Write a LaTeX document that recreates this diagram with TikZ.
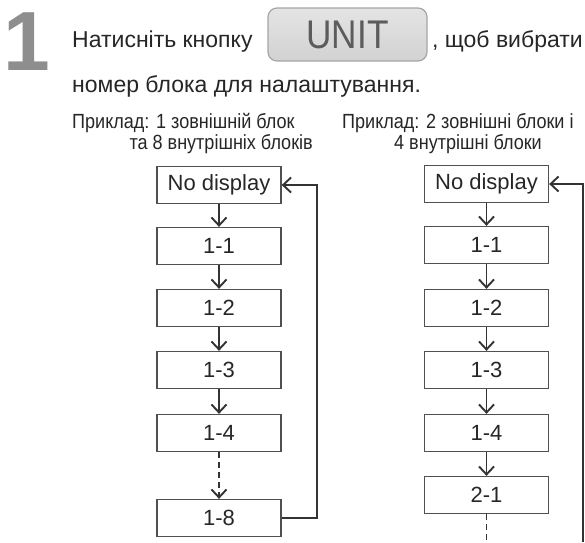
\documentclass[tikz,border=0pt]{standalone}
\usepackage{fontspec}
\setmainfont{Liberation Sans}
\newfontfamily\narrowfont{Liberation Sans}[FakeStretch=0.88]
\usetikzlibrary{arrows.meta}
\definecolor{fl_box}{HTML}{505050}
\definecolor{fl_arrow}{HTML}{333333}
\definecolor{fl_one}{HTML}{8E8E8E}
\definecolor{fl_btntop}{HTML}{E4E4E4}
\definecolor{fl_btnbot}{HTML}{D2D2D2}
\definecolor{fl_btnedge}{HTML}{A5A5A5}
\definecolor{fl_btntext}{HTML}{5C5C5C}
\definecolor{fl_text}{HTML}{262626}

\tikzset{
    unitbox/.style={draw=fl_box, line width=1.3pt, minimum width=124pt, minimum height=37pt,
        inner sep=0pt, font=\fontsize{22}{26}\selectfont, text=fl_text},
    flow/.style={draw=fl_arrow, line width=1.9pt,
        -{Straight Barb[length=8pt, width=15pt, line width=1.9pt]}},
    caption/.style={inner sep=0pt, font=\narrowfont\fontsize{20.5}{24}\selectfont, text=fl_text},
    body/.style={inner sep=0pt, font=\fontsize{23}{27}\selectfont, text=fl_text},
}

\begin{document}
\begin{tikzpicture}[x=1pt, y=-1pt]
    \useasboundingbox (0,0) rectangle (585,542);

    % step number and instruction
    \node[anchor=base west, inner sep=0pt, text=fl_one, font=\bfseries\fontsize{84}{84}\selectfont] (step1) at (3,70) {1};
    \node[body, anchor=base west] (press) at (72,47) {Натисніть кнопку};
    \node[draw=fl_btnedge, line width=1.2pt, rounded corners=9pt, top color=fl_btntop, bottom color=fl_btnbot,
        minimum width=159pt, minimum height=53pt, inner sep=0pt, text=fl_btntext,
        font=\narrowfont\fontsize{40}{40}\selectfont] (unit) at (347.5,34.5) {UNIT};
    \node[body, anchor=base west] (choose) at (432,47) {, щоб вибрати};
    \node[body, anchor=base west] (number) at (72,92) {номер блока для налаштування.};

    % captions
    \node[caption, anchor=base west] (capl1) at (72,128) {Приклад: 1 зовнішній блок};
    \node[caption, anchor=base east] (capl2) at (313,149) {та 8 внутрішніх блоків};
    \node[caption, anchor=base west] (capr1) at (342,128) {Приклад: 2 зовнішні блоки і};
    \node[caption, anchor=base] (capr2) at (468,149) {4 внутрішні блоки};

    % left sequence
    \node[unitbox] (l0) at (219,185) {No display};
    \node[unitbox] (l1) at (219,246) {1-1};
    \node[unitbox] (l2) at (219,308) {1-2};
    \node[unitbox] (l3) at (219,370) {1-3};
    \node[unitbox] (l4) at (219,433) {1-4};
    \node[unitbox] (l8) at (219,518) {1-8};

    \draw[flow] (l0) -- (l1);
    \draw[flow] (l1) -- (l2);
    \draw[flow] (l2) -- (l3);
    \draw[flow] (l3) -- (l4);
    \draw[flow, dash pattern=on 6pt off 4pt] (l4) -- (l8);
    \draw[flow] (l8.east) -- ++(35,0) |- (l0.east);

    % right sequence
    \node[unitbox] (r0) at (486.5,184) {No display};
    \node[unitbox] (r1) at (486.5,245) {1-1};
    \node[unitbox] (r2) at (486.5,308) {1-2};
    \node[unitbox] (r3) at (486.5,370) {1-3};
    \node[unitbox] (r4) at (486.5,433) {1-4};
    \node[unitbox] (r5) at (486.5,495) {2-1};

    \coordinate (rdash) at (486.5,542);
    \coordinate (rloop) at (583,542);

    \draw[flow] (r0) -- (r1);
    \draw[flow] (r1) -- (r2);
    \draw[flow] (r2) -- (r3);
    \draw[flow] (r3) -- (r4);
    \draw[flow] (r4) -- (r5);
    \draw[draw=fl_arrow, line width=1.9pt, dash pattern=on 6pt off 4pt] (r5) -- (rdash);
    \draw[flow] (rloop) |- (r0.east);
\end{tikzpicture}
\end{document}
